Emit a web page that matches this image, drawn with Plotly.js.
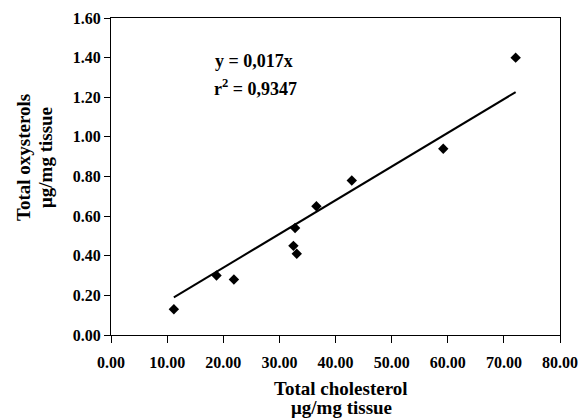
<!DOCTYPE html>
<html>
<head>
<meta charset="utf-8">
<script src="https://cdn.plot.ly/plotly-3.0.1.min.js"></script>
<style>html,body{margin:0;padding:0;background:#fff;}#chart{width:581px;height:419px;}</style>
</head>
<body>
<div id="chart"></div>
<script>
const cholesterol = [11.2, 18.8, 21.9, 32.5, 33.1, 32.8, 36.6, 42.9, 59.2, 72.1];
const oxysterols  = [0.13, 0.30, 0.28, 0.45, 0.41, 0.54, 0.65, 0.78, 0.94, 1.40];
const trendX = [11.2, 72.1];
const trendY = [0.19, 1.226];
const xTicks = [0, 10, 20, 30, 40, 50, 60, 70, 80];
const xTickLabels = ["0.00","10.00","20.00","30.00","40.00","50.00","60.00","70.00","80.00"];
const yTicks = [0, 0.2, 0.4, 0.6, 0.8, 1.0, 1.2, 1.4, 1.6];
const yTickLabels = ["0.00","0.20","0.40","0.60","0.80","1.00","1.20","1.40","1.60"];
const xTitleLines = ["Total cholesterol", "μg/mg tissue"];
const yTitleLines = ["Total oxysterols", "μg/mg tissue"];

const fontFam = '"Liberation Serif", "Times New Roman", serif';
const W = 581, H = 419, L = 111, R = 21, T = 18, B = 84;
const pw = W - L - R, ph = H - T - B;
const px = v => (v - L) / pw;       // pixel x -> paper x
const py = v => (H - B - v) / ph;   // pixel y -> paper y

const data = [
  {x: trendX, y: trendY, type: 'scatter', mode: 'lines',
   line: {color: '#000', width: 2}, hoverinfo: 'skip'},
  {x: cholesterol, y: oxysterols, type: 'scatter', mode: 'markers',
   marker: {symbol: 'diamond', size: 8, color: '#000'}}
];

const titleFont = {family: fontFam, size: 19, color: '#000'};
const eqFont = {family: fontFam, size: 18, color: '#000'};

const layout = {
  width: W, height: H,
  margin: {l: L, r: R, t: T, b: B},
  showlegend: false,
  paper_bgcolor: '#fff', plot_bgcolor: '#fff',
  font: {family: fontFam, color: '#000'},
  xaxis: {
    range: [0, 80], tickvals: xTicks, ticktext: xTickLabels,
    ticks: 'outside', ticklen: 7, tickcolor: '#000', tickwidth: 1,
    ticklabelstandoff: 6,
    showgrid: false, zeroline: false,
    showline: true, linecolor: '#000', linewidth: 1, mirror: true,
    tickfont: {family: fontFam, size: 16, weight: 'bold', color: '#000'}
  },
  yaxis: {
    range: [0, 1.6], tickvals: yTicks, ticktext: yTickLabels,
    ticks: 'outside', ticklen: 6, tickcolor: '#000', tickwidth: 1,
    showgrid: false, zeroline: false,
    showline: true, linecolor: '#000', linewidth: 1, mirror: true,
    tickfont: {family: fontFam, size: 16, weight: 'bold', color: '#000'}
  },
  annotations: [
    {xref: 'paper', yref: 'paper', x: px(213), y: py(61), xanchor: 'left', yanchor: 'middle',
     showarrow: false, text: '<b>y = 0,017x</b>', font: eqFont},
    {xref: 'paper', yref: 'paper', x: px(212), y: py(88), xanchor: 'left', yanchor: 'middle',
     showarrow: false, text: '<b>r<sup>2</sup> = 0,9347</b>', font: eqFont},
    {xref: 'paper', yref: 'paper', x: px(341), y: py(388), xanchor: 'center', yanchor: 'middle',
     showarrow: false, text: '<b>' + xTitleLines[0] + '</b>', font: titleFont},
    {xref: 'paper', yref: 'paper', x: px(341), y: py(408), xanchor: 'center', yanchor: 'middle',
     showarrow: false, text: '<b>' + xTitleLines[1] + '</b>', font: titleFont},
    {xref: 'paper', yref: 'paper', x: px(23), y: py(158), xanchor: 'center', yanchor: 'middle',
     textangle: -90, showarrow: false, text: '<b>' + yTitleLines[0] + '</b>', font: titleFont},
    {xref: 'paper', yref: 'paper', x: px(45), y: py(158), xanchor: 'center', yanchor: 'middle',
     textangle: -90, showarrow: false, text: '<b>' + yTitleLines[1] + '</b>', font: titleFont}
  ]
};

Plotly.newPlot('chart', data, layout, {displayModeBar: false, staticPlot: true});
</script>
</body>
</html>
